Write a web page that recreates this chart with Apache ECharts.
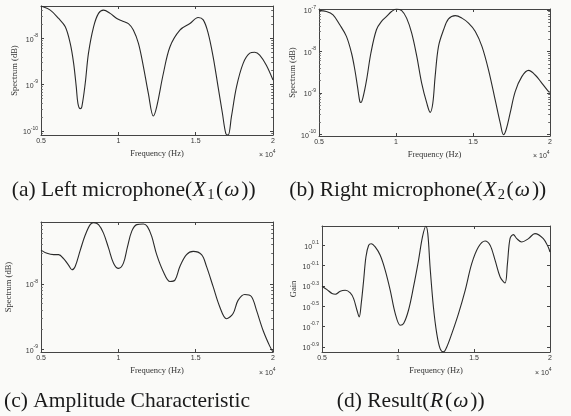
<!DOCTYPE html>
<html><head><meta charset="utf-8">
<script src="https://cdn.jsdelivr.net/npm/echarts@6/dist/echarts.min.js"></script>
<style>html,body{margin:0;padding:0;background:#fafaf8;}#c{width:571px;height:416px;}</style>
</head><body><div id="c"></div>
<script>
// Frequency in units of 10^4 Hz; spectrum/gain values stored as log10 exponents
const xTicks = [0.5, 1, 1.5, 2];

const freqA = [0.500,0.560,0.614,0.657,0.689,0.711,0.728,0.739,0.754,0.764,0.786,0.807,0.840,0.872,0.904,0.947,0.990,1.022,1.065,1.097,1.130,1.162,1.194,1.226,1.248,1.291,1.334,1.398,1.463,1.516,1.549,1.581,1.613,1.645,1.673,1.695,1.710,1.731,1.764,1.807,1.850,1.882,1.914,1.957,2.000];
const specA = [-7.30,-7.39,-7.57,-7.75,-8.11,-8.54,-9.05,-9.41,-9.52,-9.48,-8.97,-8.32,-7.75,-7.46,-7.39,-7.46,-7.57,-7.62,-7.68,-7.82,-8.11,-8.61,-9.19,-9.68,-9.48,-8.76,-8.18,-7.82,-7.68,-7.55,-7.60,-7.89,-8.40,-9.05,-9.62,-10.06,-10.09,-9.70,-9.05,-8.54,-8.32,-8.30,-8.36,-8.58,-8.90];

const freqB = [0.500,0.548,0.591,0.635,0.678,0.711,0.733,0.750,0.765,0.772,0.787,0.809,0.837,0.873,0.906,0.939,0.971,1.004,1.037,1.069,1.102,1.135,1.167,1.200,1.222,1.239,1.254,1.276,1.309,1.341,1.385,1.428,1.471,1.515,1.558,1.601,1.644,1.677,1.698,1.715,1.741,1.774,1.817,1.861,1.904,1.948,1.991,2.000];
const specB = [-7.02,-7.04,-7.12,-7.36,-7.64,-8.04,-8.45,-8.85,-9.21,-9.23,-9.09,-8.69,-8.04,-7.48,-7.28,-7.16,-7.04,-6.98,-7.02,-7.20,-7.56,-8.12,-8.77,-9.25,-9.47,-9.25,-8.61,-7.88,-7.48,-7.22,-7.14,-7.20,-7.32,-7.52,-7.88,-8.45,-9.17,-9.73,-10.01,-9.89,-9.49,-8.97,-8.61,-8.46,-8.57,-8.77,-8.97,-8.98];

const freqC = [0.500,0.539,0.582,0.614,0.646,0.678,0.700,0.721,0.754,0.786,0.818,0.840,0.872,0.904,0.937,0.969,1.001,1.033,1.059,1.087,1.119,1.162,1.188,1.216,1.248,1.291,1.334,1.366,1.398,1.441,1.484,1.538,1.570,1.613,1.656,1.699,1.742,1.774,1.817,1.860,1.893,1.936,1.979,2.000];
const specC = [-7.48,-7.53,-7.55,-7.55,-7.61,-7.71,-7.78,-7.73,-7.48,-7.25,-7.09,-7.06,-7.09,-7.22,-7.45,-7.68,-7.76,-7.68,-7.43,-7.19,-7.09,-7.08,-7.12,-7.27,-7.55,-7.81,-7.96,-7.94,-7.73,-7.55,-7.50,-7.55,-7.73,-8.04,-8.35,-8.53,-8.45,-8.25,-8.16,-8.19,-8.40,-8.71,-8.95,-9.04];

const freqD = [0.500,0.533,0.566,0.588,0.620,0.653,0.686,0.708,0.730,0.745,0.758,0.774,0.789,0.807,0.824,0.850,0.883,0.916,0.949,0.982,1.015,1.037,1.069,1.102,1.135,1.161,1.183,1.196,1.211,1.233,1.255,1.277,1.299,1.321,1.354,1.398,1.442,1.485,1.529,1.573,1.606,1.639,1.672,1.704,1.720,1.737,1.759,1.781,1.814,1.858,1.901,1.956,1.989,2.000];
const gainD = [-0.303,-0.336,-0.375,-0.382,-0.352,-0.343,-0.369,-0.425,-0.539,-0.605,-0.474,-0.244,-0.015,0.100,0.116,0.084,0.002,-0.146,-0.343,-0.572,-0.687,-0.670,-0.539,-0.310,-0.048,0.182,0.287,0.215,-0.113,-0.507,-0.769,-0.917,-0.949,-0.900,-0.769,-0.572,-0.343,-0.080,0.084,0.143,0.100,-0.048,-0.211,-0.271,-0.080,0.166,0.205,0.166,0.133,0.166,0.215,0.166,0.080,0.034];

const yTicksA = [-8, -9, -10];
const yTicksB = [-7, -8, -9, -10];
const yTicksC = [-8, -9];
const yTicksD = [0.1, -0.1, -0.3, -0.5, -0.7, -0.9];

const captions = [
  ['(a) Left microphone(', 'X', '1', '(', 'ω', '))'],
  ['(b) Right microphone(', 'X', '2', '(', 'ω', '))'],
  ['(c) Amplitude Characteristic'],
  ['(d) Result(', 'R', '', '(', 'ω', '))']
];

function minorTicks(lo, hi) {
  const out = [];
  for (let n = Math.floor(lo) - 1; n <= Math.ceil(hi); n++) {
    for (let k = 2; k <= 9; k++) {
      const v = n + Math.log10(k);
      if (v > lo + 0.01 && v < hi - 0.01) out.push(v);
    }
  }
  return out;
}

const panels = [
  {x: freqA, y: specA, yTicks: yTicksA, yMin: -10.09, yMax: -7.30, minor: true,
   grid: {left: 41, top: 6, width: 232, height: 129}, yName: 'Spectrum (dB)', yGap: 21,
   times: [259, 154], cap: [134, 190]},
  {x: freqB, y: specB, yTicks: yTicksB, yMin: -10.04, yMax: -6.98, minor: true,
   grid: {left: 319, top: 9, width: 231, height: 127}, yName: 'Spectrum (dB)', yGap: 22,
   times: [533, 155], cap: [418, 190]},
  {x: freqC, y: specC, yTicks: yTicksC, yMin: -9.04, yMax: -7.05, minor: true,
   grid: {left: 41, top: 222, width: 232, height: 130}, yName: 'Spectrum (dB)', yGap: 28,
   times: [259, 372], cap: [127, 401]},
  {x: freqD, y: gainD, yTicks: yTicksD, yMin: -0.95, yMax: 0.29, minor: false,
   grid: {left: 322, top: 226, width: 228, height: 126}, yName: 'Gain', yGap: 24,
   times: [535, 372], cap: [411, 401]}
];

const lineCol = '#444';
const textCol = '#333';
const tickFont = {fontFamily: 'Liberation Sans', color: textCol};
const rich = {
  b: {fontSize: 7, lineHeight: 10, verticalAlign: 'bottom', fontFamily: 'Liberation Sans', color: textCol},
  s: {fontSize: 5, lineHeight: 6, verticalAlign: 'top', fontFamily: 'Liberation Sans', color: textCol}
};
function expLabel(v) {
  const r = Math.round(v * 10) / 10;
  return '{b|10}{s|' + String(r) + '}';
}

const capFill = '#1a1a1a';
const capSize = 21.5;
const capRich = {
  r: {fontSize: capSize, lineHeight: 26, fontFamily: 'Liberation Serif', fill: capFill},
  p: {fontSize: capSize, lineHeight: 26, fontFamily: 'Liberation Serif', fill: capFill, padding: [0, 0.5, 0, 0.5]},
  i: {fontSize: capSize, lineHeight: 26, fontStyle: 'italic', fontFamily: 'Liberation Serif', fill: capFill, padding: [0, 1.5, 0, 0.5]},
  sub: {fontSize: 14.5, lineHeight: 19, verticalAlign: 'bottom', fontFamily: 'Liberation Serif', fill: capFill, padding: [0, 1, 0, 0]}
};

const grids = [], xAxes = [], yAxes = [], series = [], graphics = [];
panels.forEach((p, i) => {
  grids.push(Object.assign({containLabel: false}, p.grid));
  const xBase = {gridIndex: i, type: 'value', min: 0.5, max: 2,
    splitLine: {show: false}, axisLine: {onZero: false, lineStyle: {color: lineCol, width: 1}}};
  xAxes.push(Object.assign({}, xBase, {position: 'bottom',
    name: 'Frequency (Hz)', nameLocation: 'middle', nameGap: 14,
    nameTextStyle: {fontFamily: 'Liberation Serif', fontSize: 8.5, color: textCol},
    axisTick: {inside: true, length: 3, customValues: xTicks, lineStyle: {color: lineCol}},
    axisLabel: Object.assign({fontSize: 7, margin: 3, customValues: xTicks, formatter: v => String(v)}, tickFont)}));
  xAxes.push(Object.assign({}, xBase, {position: 'top',
    axisTick: {inside: true, length: 3, customValues: xTicks, lineStyle: {color: lineCol}},
    axisLabel: {show: false}}));
  const yBase = {gridIndex: i, type: 'value', min: p.yMin, max: p.yMax,
    splitLine: {show: false}, axisLine: {onZero: false, lineStyle: {color: lineCol, width: 1}}};
  yAxes.push(Object.assign({}, yBase, {position: 'left',
    name: p.yName, nameLocation: 'middle', nameGap: p.yGap,
    nameTextStyle: {fontFamily: 'Liberation Serif', fontSize: 8.5, color: textCol},
    axisTick: {inside: true, length: 3, customValues: p.yTicks, lineStyle: {color: lineCol}},
    axisLabel: {margin: 3, customValues: p.yTicks, formatter: expLabel, rich: rich}}));
  yAxes.push(Object.assign({}, yBase, {position: 'right',
    axisTick: {inside: true, length: 3, customValues: p.yTicks, lineStyle: {color: lineCol}},
    axisLabel: {show: false}}));
  if (p.minor) {
    const mt = minorTicks(p.yMin, p.yMax);
    ['left', 'right'].forEach(pos => {
      yAxes.push(Object.assign({}, yBase, {position: pos, axisLine: {show: false, onZero: false},
        axisTick: {inside: true, length: 1.8, customValues: mt, lineStyle: {color: '#666'}},
        axisLabel: {show: false}}));
    });
  }
  series.push({type: 'line', xAxisIndex: 2 * i, yAxisIndex: yAxes.findIndex(a => a.gridIndex === i),
    data: p.x.map((f, j) => [f, p.y[j]]), symbol: 'none', smooth: 0.35, clip: true,
    lineStyle: {color: '#2a2a2a', width: 1.1}, silent: true});
  graphics.push({type: 'text', left: p.times[0], top: p.times[1] - 5,
    style: {text: '{t|× 10}{s|4}', rich: {
      t: {fontSize: 7, lineHeight: 10, verticalAlign: 'bottom', fontFamily: 'Liberation Sans', fill: textCol},
      s: {fontSize: 5, lineHeight: 6, verticalAlign: 'top', fontFamily: 'Liberation Sans', fill: textCol}}}});
  const c = captions[i];
  let txt = '{r|' + c[0] + '}';
  if (c.length > 1) {
    txt += '{i|' + c[1] + '}' + (c[2] ? '{sub|' + c[2] + '}' : '') + '{p|' + c[3] + '}{i|' + c[4] + '}{p|' + c[5] + '}';
  }
  graphics.push({type: 'text', x: p.cap[0], y: p.cap[1],
    style: {text: txt, align: 'center', verticalAlign: 'middle', rich: capRich}});
});

const chart = echarts.init(document.getElementById('c'), null, {renderer: 'canvas'});
chart.setOption({
  backgroundColor: '#fafaf8',
  animation: false,
  grid: grids, xAxis: xAxes, yAxis: yAxes, series: series, graphic: graphics
});
</script></body></html>
